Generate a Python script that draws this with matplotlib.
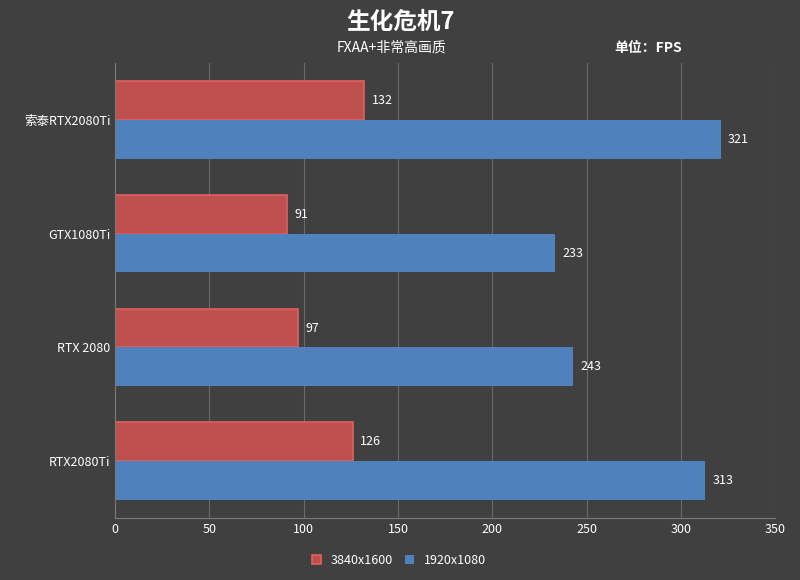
import matplotlib.pyplot as plt
import numpy as np

plt.rcParams['font.family'] = ['Noto Sans CJK SC', 'DejaVu Sans']

cards = ['索泰RTX2080Ti', 'GTX1080Ti', 'RTX 2080', 'RTX2080Ti']
fps_4k = [132, 91, 97, 126]
fps_1080 = [321, 233, 243, 313]
xticks = [0, 50, 100, 150, 200, 250, 300, 350]

bg = '#404040'
red = '#c0504d'
blue = '#4f81bd'

fig = plt.figure(figsize=(8, 5.8), dpi=100, facecolor=bg)
ax = fig.add_axes([0.144, 0.107, 0.825, 0.784], facecolor=bg)

pos = np.arange(len(cards))[::-1].astype(float)
h = 0.34
ax.barh(pos + h / 2, fps_4k, height=h, color=red, edgecolor='#e06060', linewidth=1.2, label='3840x1600')
ax.barh(pos - h / 2, fps_1080, height=h, color=blue, label='1920x1080')

for p, v in zip(pos, fps_4k):
    ax.text(v + 4, p + h / 2, str(v), color='white', va='center', fontsize=9)
for p, v in zip(pos, fps_1080):
    ax.text(v + 4, p - h / 2, str(v), color='white', va='center', fontsize=9)

ax.set_xlim(0, 350)
ax.set_ylim(-0.5, 3.5)
ax.set_xticks(xticks)
ax.set_yticks(pos)
ax.set_yticklabels(cards)
ax.tick_params(colors='white', labelsize=9, length=0)
ax.grid(axis='x', color='#6a6a6a', linewidth=0.8)
ax.set_axisbelow(True)
for s in ['top', 'right']:
    ax.spines[s].set_visible(False)
ax.spines['left'].set_color('#7a7a7a')
ax.spines['bottom'].set_color('#7a7a7a')

fig.text(0.5, 0.962, '生化危机7', color='white', fontsize=17, ha='center', va='center', fontweight='bold')
fig.text(0.49, 0.918, 'FXAA+非常高画质', color='white', fontsize=10, ha='center', va='center')
fig.text(0.81, 0.918, '单位：FPS', color='white', fontsize=10, ha='center', va='center', fontweight='bold')

ax.legend(loc='upper center', bbox_to_anchor=(0.43, -0.055), ncol=2, frameon=False,
          labelcolor='white', fontsize=9, handlelength=0.7, handleheight=0.7, columnspacing=1.0)

fig.savefig('out.png', facecolor=bg)
